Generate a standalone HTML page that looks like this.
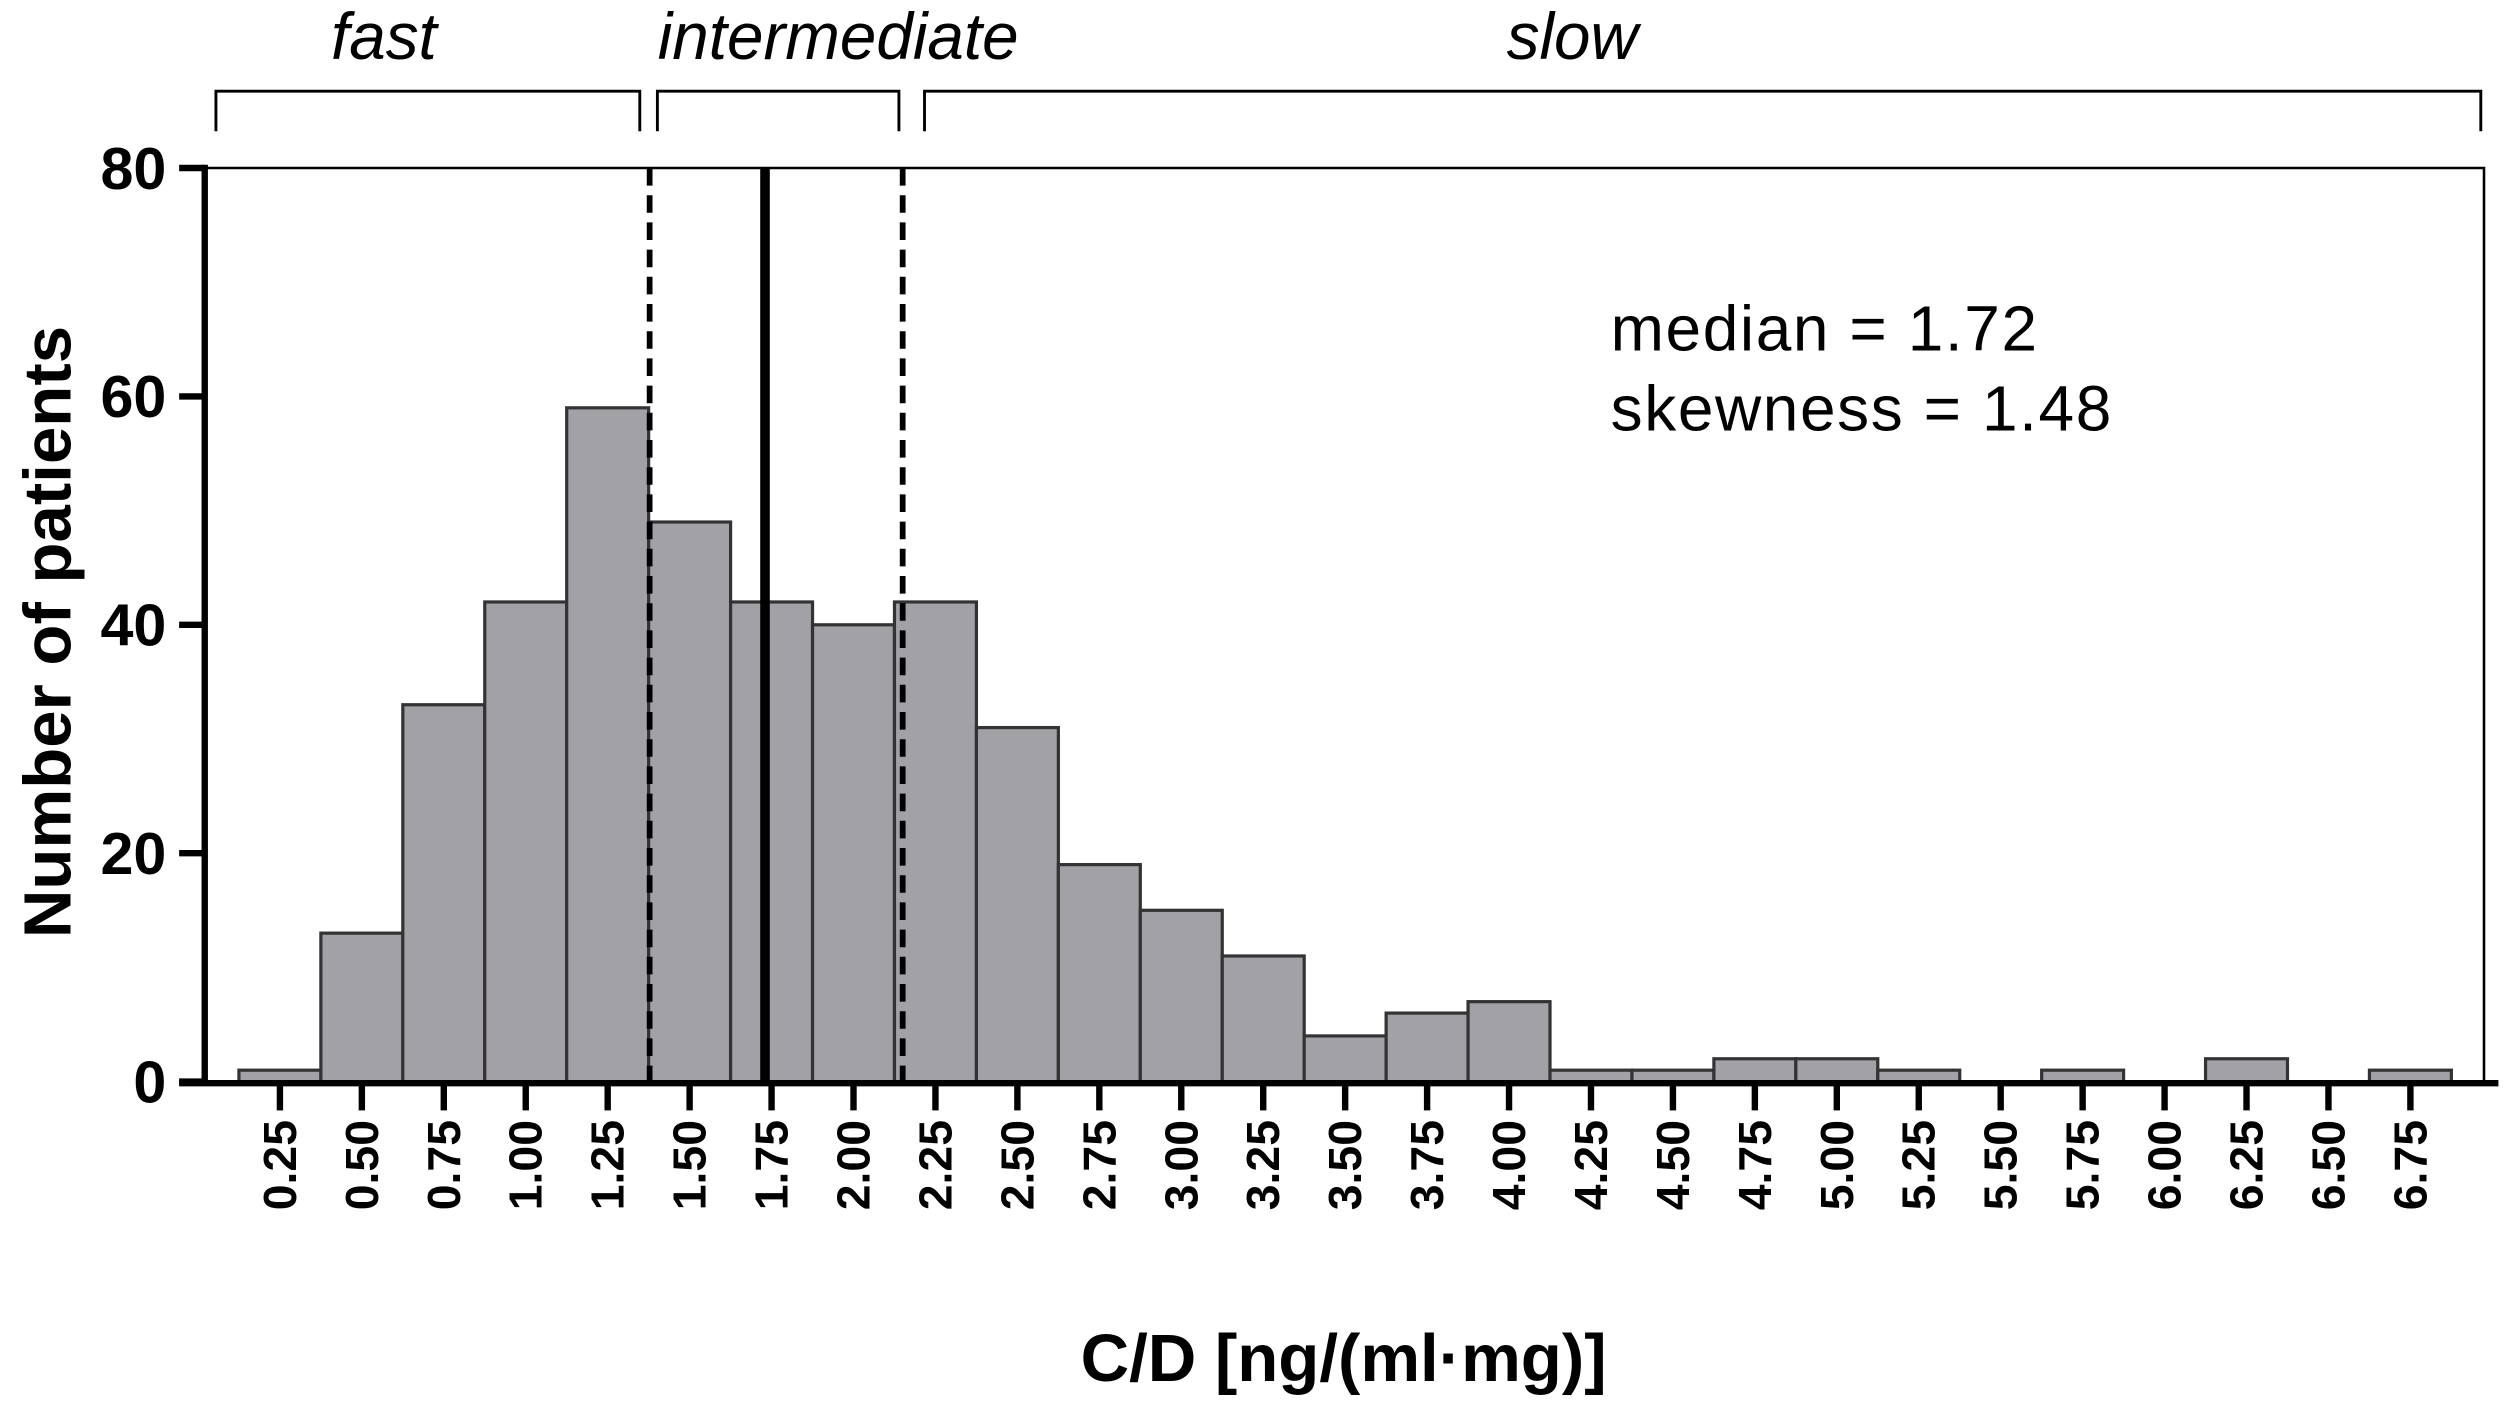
<!DOCTYPE html>
<html><head><meta charset="utf-8"><style>
html,body{margin:0;padding:0;background:#fff;}
svg{display:block;}
text{font-family:"Liberation Sans",Arial,sans-serif;fill:#000;}
</style></head><body>
<svg id="chart" width="2508" height="1408" viewBox="0 0 1568 880" preserveAspectRatio="none" xmlns="http://www.w3.org/2000/svg">
<g id="g"></g>
</svg>
<script>
const binCenters = [0.25,0.5,0.75,1.0,1.25,1.5,1.75,2.0,2.25,2.5,2.75,3.0,3.25,3.5,3.75,4.0,4.25,4.5,4.75,5.0,5.25,5.5,5.75,6.0,6.25,6.5,6.75];
const counts = [1,13,33,42,59,49,42,40,42,31,19,15,11,4,6,7,1,1,2,2,1,0,1,0,2,0,1];
const tickLabels = ["0.25","0.50","0.75","1.00","1.25","1.50","1.75","2.00","2.25","2.50","2.75","3.00","3.25","3.50","3.75","4.00","4.25","4.50","4.75","5.00","5.25","5.50","5.75","6.00","6.25","6.50","6.75"];
const yTicks = [0,20,40,60,80];
const cutoffs = [1.378,2.15];
const median = [1.73];
const groups = ["fast","intermediate","slow"];

const NS="http://www.w3.org/2000/svg";
const g=document.getElementById('g');
const binW=0.25;
function xs(v){return 175+(v-0.25)*204.92;}
function ys(v){return 676-v*(571/80);}
function mk(tag,attrs,parent){const e=document.createElementNS(NS,tag);for(const k in attrs)e.setAttribute(k,attrs[k]);(parent||g).appendChild(e);return e;}

let e=mk('path',{d:`M128 ${ys(80)} H1553 V676`,fill:'none',stroke:'#000','stroke-width':1.6});



counts.forEach((c,i)=>{
  const x0=xs(binCenters[i]-binW/2), x1=xs(binCenters[i]+binW/2);
  const b=mk('rect',{x:x0,y:ys(c),width:x1-x0,height:Math.max(ys(0)-ys(c),0),fill:'#a2a1a6',stroke:'#333','stroke-width':2});
  
  
});

cutoffs.forEach((v,i)=>{
  const l=mk('line',{x1:xs(v),x2:xs(v),y1:ys(80),y2:676,stroke:'#000','stroke-width':3.6,'stroke-dasharray':'11 6'});
  
  
});
median.forEach(v=>{
  const l=mk('line',{x1:xs(v),x2:xs(v),y1:ys(80),y2:676,stroke:'#000','stroke-width':6});
  
  
});

e=mk('line',{x1:128,x2:128,y1:ys(80)-2,y2:678,stroke:'#000','stroke-width':4});


e=mk('line',{x1:112,x2:1562,y1:677,y2:677,stroke:'#000','stroke-width':4});



yTicks.forEach(v=>{
  const t=mk('line',{x1:112,x2:128,y1:ys(v),y2:ys(v),stroke:'#000','stroke-width':4});
  
  
  const tx=mk('text',{x:104,y:ys(v)+13,'text-anchor':'end','font-size':37,'font-weight':'bold'});
  tx.textContent=v;
  
  
});

binCenters.forEach((v,i)=>{
  const t=mk('line',{x1:xs(v),x2:xs(v),y1:677,y2:694,stroke:'#000','stroke-width':4});
  
  
  const tx=mk('text',{x:0,y:0,'text-anchor':'end','font-size':29,'font-weight':'bold',transform:`translate(${xs(v)+10},700) rotate(-90)`});
  tx.textContent=tickLabels[i];
  
  
});

const br=[[135,400,240],[411,562,524],[578,1551,983]];
br.forEach((b,i)=>{
  const p=mk('path',{d:`M${b[0]} 82 V57 H${b[1]} V82`,fill:'none',stroke:'#000','stroke-width':1.8});
  
  
  const t=mk('text',{x:b[2],y:37,'text-anchor':'middle','font-size':41,'font-style':'italic'});
  t.textContent=groups[i];
  
  
});

e=mk('text',{x:1007,y:219,'font-size':40,'letter-spacing':'1'});
e.textContent='median = 1.72';


e=mk('text',{x:1007,y:269,'font-size':40,'letter-spacing':'1'});
e.textContent='skewness = 1.48';



e=mk('text',{x:0,y:0,'text-anchor':'middle','font-size':42,'font-weight':'bold',transform:'translate(44,395) rotate(-90)'});
e.textContent='Number of patients';


e=mk('text',{x:840,y:863,'text-anchor':'middle','font-size':42,'font-weight':'bold'});
e.textContent='C/D [ng/(ml·mg)]';


</script>
</body></html>
